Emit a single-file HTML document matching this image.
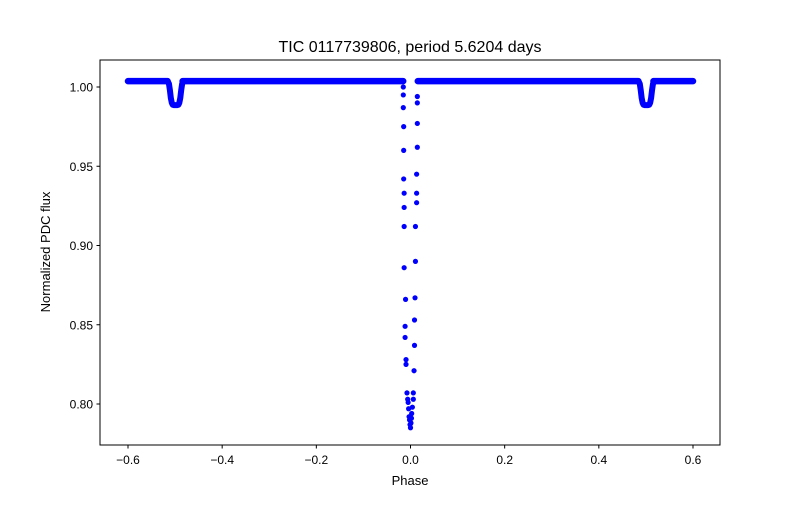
<!DOCTYPE html>
<html><head><meta charset="utf-8"><style>
body{margin:0;background:#fff}
svg{font-family:"Liberation Sans","DejaVu Sans",sans-serif}
</style></head><body>
<svg id="chart" width="800" height="500" viewBox="0 0 800 500" xmlns="http://www.w3.org/2000/svg">
<rect width="800" height="500" fill="#fff"/>
<g id="plot"></g>
<rect x="100" y="60" width="620" height="385" fill="none" stroke="#000" stroke-width="1"/>
<g id="axes"></g>
<text x="410" y="52" font-size="16" text-anchor="middle">TIC 0117739806, period 5.6204 days</text>
<text x="410" y="485" font-size="13" text-anchor="middle">Phase</text>
<text transform="translate(50,252) rotate(-90)" font-size="13" text-anchor="middle">Normalized PDC flux</text>
</svg>
<script>
const xTicks=[-0.6,-0.4,-0.2,0.0,0.2,0.4,0.6];
const xTickLabels=["−0.6","−0.4","−0.2","0.0","0.2","0.4","0.6"];
const yTicks=[0.80,0.85,0.90,0.95,1.00];
const yTickLabels=["0.80","0.85","0.90","0.95","1.00"];
// baseline (out-of-eclipse) segments [start phase, end phase], flux level
const baselineStarts=[-0.6,-0.484,0.0155,0.516];
const baselineEnds=[-0.516,-0.0155,0.484,0.6];
const baselineFlux=1.0037;
// secondary eclipse profile: offsets from centre and flux
const secCenters=[-0.499,0.501];
const secOffsets=[-0.017,-0.014,-0.012,-0.010,-0.008,-0.006,-0.004,0.0,0.004,0.006,0.008,0.010,0.012,0.014,0.017];
const secFlux=[1.0037,1.002,0.998,0.993,0.990,0.9888,0.9886,0.9886,0.9886,0.9888,0.990,0.993,0.998,1.002,1.0037];
// primary eclipse points
const primPhase=[-0.0153,-0.0153,-0.0153,-0.0145,-0.0145,-0.0145,-0.0135,-0.0135,-0.0135,-0.0135,-0.0105,-0.0115,-0.0115,-0.0095,-0.0095,-0.0075,-0.006,-0.005,-0.004,-0.003,-0.002,-0.001,0.0,0.001,0.002,0.0025,0.004,0.006,0.006,0.0075,0.0085,0.0085,0.0096,0.0105,0.0105,0.013,0.013,0.013,0.0145,0.0145,0.0145,0.0145];
const primFlux=[1.000,0.995,0.987,0.975,0.960,0.942,0.933,0.924,0.912,0.886,0.866,0.849,0.842,0.828,0.825,0.807,0.803,0.801,0.797,0.792,0.790,0.787,0.785,0.788,0.791,0.794,0.798,0.803,0.807,0.821,0.837,0.853,0.867,0.890,0.912,0.927,0.933,0.945,0.962,0.977,0.990,0.994];
const X=p=>410.5+p*470.83;
const Y=f=>87+(1-f)*1585;
const NS="http://www.w3.org/2000/svg";
const plot=document.getElementById('plot'),axes=document.getElementById('axes');
function mk(t,a,parent){const e=document.createElementNS(NS,t);for(const k in a)e.setAttribute(k,a[k]);parent.appendChild(e);return e;}
for(let i=0;i<baselineStarts.length;i++){
 const e=mk('line',{x1:X(baselineStarts[i]),x2:X(baselineEnds[i]),y1:Y(baselineFlux),y2:Y(baselineFlux),stroke:'#0000ff','stroke-width':6.5,'stroke-linecap':'round'},plot);
 
 
}
secCenters.forEach(c=>{
 const pts=secOffsets.map((o,i)=>X(c+o)+','+Y(secFlux[i])).join(' ');
 const e=mk('polyline',{points:pts,fill:'none',stroke:'#0000ff','stroke-width':6,'stroke-linecap':'round','stroke-linejoin':'round'},plot);
 
 
});
primPhase.forEach((p,i)=>{
 const e=mk('circle',{cx:X(p),cy:Y(primFlux[i]),r:2.6,fill:'#0000ff'},plot);
 
 
});
xTicks.forEach((t,i)=>{
 const e=mk('line',{x1:X(t),x2:X(t),y1:445,y2:448.5,stroke:'#000'},axes);
 
 
 const l=mk('text',{x:X(t),y:464,'font-size':12,'text-anchor':'middle'},axes);l.textContent=xTickLabels[i];
 
 
});
yTicks.forEach((t,i)=>{
 const e=mk('line',{x1:96.5,x2:100,y1:Y(t),y2:Y(t),stroke:'#000'},axes);
 
 
 const l=mk('text',{x:93,y:Y(t)+4.5,'font-size':12,'text-anchor':'end'},axes);l.textContent=yTickLabels[i];
 
 
});
</script>
</body></html>
